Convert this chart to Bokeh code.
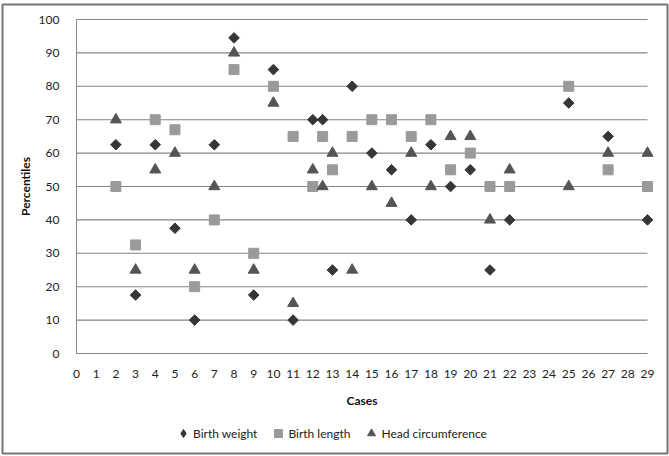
import math
from bokeh.plotting import figure
from bokeh.models import (Range1d, FixedTicker, Legend, LegendItem, ColumnDataSource)
from bokeh.embed import file_html
from bokeh.resources import INLINE

# ---- data ----
case = [2, 3, 4, 5, 6, 7, 8, 9, 10, 11, 12, 12.5, 13, 14, 15, 16, 17, 18, 19, 20, 21, 22, 25, 27, 29]
birth_weight = [62.5, 17.5, 62.5, 37.5, 10, 62.5, 94.5, 17.5, 85, 10, 70, 70, 25, 80, 60, 55, 40, 62.5, 50, 55, 25, 40, 75, 65, 40]
birth_length = [50, 32.5, 70, 67, 20, 40, 85, 30, 80, 65, 50, 65, 55, 65, 70, 70, 65, 70, 55, 60, 50, 50, 80, 55, 50]
head_circ = [70, 25, 55, 60, 25, 50, 90, 25, 75, 15, 55, 50, 60, 25, 50, 45, 60, 50, 65, 65, 40, 55, 50, 60, 60]
x_ticks = list(range(0, 30))
y_ticks = list(range(0, 101, 10))
series_names = ["Birth weight", "Birth length", "Head circumference"]

FONT = "Lato"

# ---- layout (pixels) ----
W, H = 669, 456
B_L, B_R, B_T, B_B = 2, 2, 4, 3          # frame = whole chart box (drawn with outline)
AX_X0, AX_X1 = 76, 647                   # pixel of x=0 and x=29
AX_Y100, AX_Y0 = 19, 353                 # pixel of y=100 and y=0
fw, fh = W - B_L - B_R, H - B_T - B_B
ppx = (AX_X1 - AX_X0) / (x_ticks[-1] - x_ticks[0])
ppy = (AX_Y0 - AX_Y100) / (y_ticks[-1] - y_ticks[0])
xs = x_ticks[0] - (AX_X0 - B_L) / ppx
ys_top = y_ticks[-1] + (AX_Y100 - B_T) / ppy

src = ColumnDataSource(dict(case=case, w=birth_weight, l=birth_length, h=head_circ))

p = figure(width=W, height=H, output_backend="svg", toolbar_location=None,
           x_range=Range1d(xs, xs + fw / ppx), y_range=Range1d(ys_top - fh / ppy, ys_top),
           min_border_left=B_L, min_border_right=B_R, min_border_top=B_T, min_border_bottom=B_B)
p.outline_line_color = "#767676"
p.outline_line_width = 2
p.background_fill_color = "white"
p.border_fill_color = "white"
p.xgrid.grid_line_color = None
p.ygrid.grid_line_color = None

# horizontal gridlines spanning only the case range
p.segment(x0=x_ticks[0], x1=x_ticks[-1], y0=y_ticks, y1=y_ticks,
          line_color="#858585", line_width=1.1)

r_w = p.scatter("case", "w", source=src, marker="square", angle=math.pi / 4, size=7.5,
                fill_color="#363636", line_color="#363636")
r_l = p.scatter("case", "l", source=src, marker="square", size=10,
                fill_color="#9a9a9a", line_color="#9a9a9a")
r_h = p.scatter("case", "h", source=src, marker="triangle", size=11,
                fill_color="#555555", line_color="#555555")
# legend swatch for the diamond series (legend does not rotate markers)
r_w_key = p.scatter("case", "w", source=src, marker="diamond", size=10,
                    fill_color="#363636", line_color="#363636", visible=False)

# axes, pinned at the data origin
p.xaxis.fixed_location = 0
p.yaxis.fixed_location = 0
p.xaxis.bounds = (x_ticks[0], x_ticks[-1])
p.yaxis.bounds = (y_ticks[0], y_ticks[-1])
p.xaxis.ticker = FixedTicker(ticks=x_ticks)
p.yaxis.ticker = FixedTicker(ticks=y_ticks)
for ax in (p.xaxis, p.yaxis):
    ax.major_tick_line_color = None
    ax.minor_tick_line_color = None
    ax.major_label_text_font = FONT
    ax.major_label_text_font_size = "12px"
    ax.major_label_text_color = "#222222"
    ax.axis_label_text_font = FONT
    ax.axis_label_text_font_size = "12px"
    ax.axis_label_text_font_style = "bold"
    ax.axis_label_text_color = "#111111"
p.xaxis.axis_line_color = None
p.yaxis.axis_line_color = "#868686"
p.xaxis.axis_label = "Cases"
p.yaxis.axis_label = "Percentiles"
p.xaxis.major_label_standoff = 10
p.xaxis.axis_label_standoff = 12
p.yaxis.major_label_standoff = 11
p.yaxis.axis_label_standoff = 3

legend = Legend(items=[LegendItem(label=series_names[0], renderers=[r_w_key]),
                       LegendItem(label=series_names[1], renderers=[r_l]),
                       LegendItem(label=series_names[2], renderers=[r_h])],
                orientation="horizontal", location=(171, 10),
                label_text_font=FONT, label_text_font_size="12px", label_text_color="#222222",
                glyph_width=20, glyph_height=20, label_standoff=0, spacing=11,
                border_line_color=None, background_fill_alpha=0, padding=2, margin=0)
p.add_layout(legend, "center")

open("out.html", "w").write(file_html(p, INLINE))
